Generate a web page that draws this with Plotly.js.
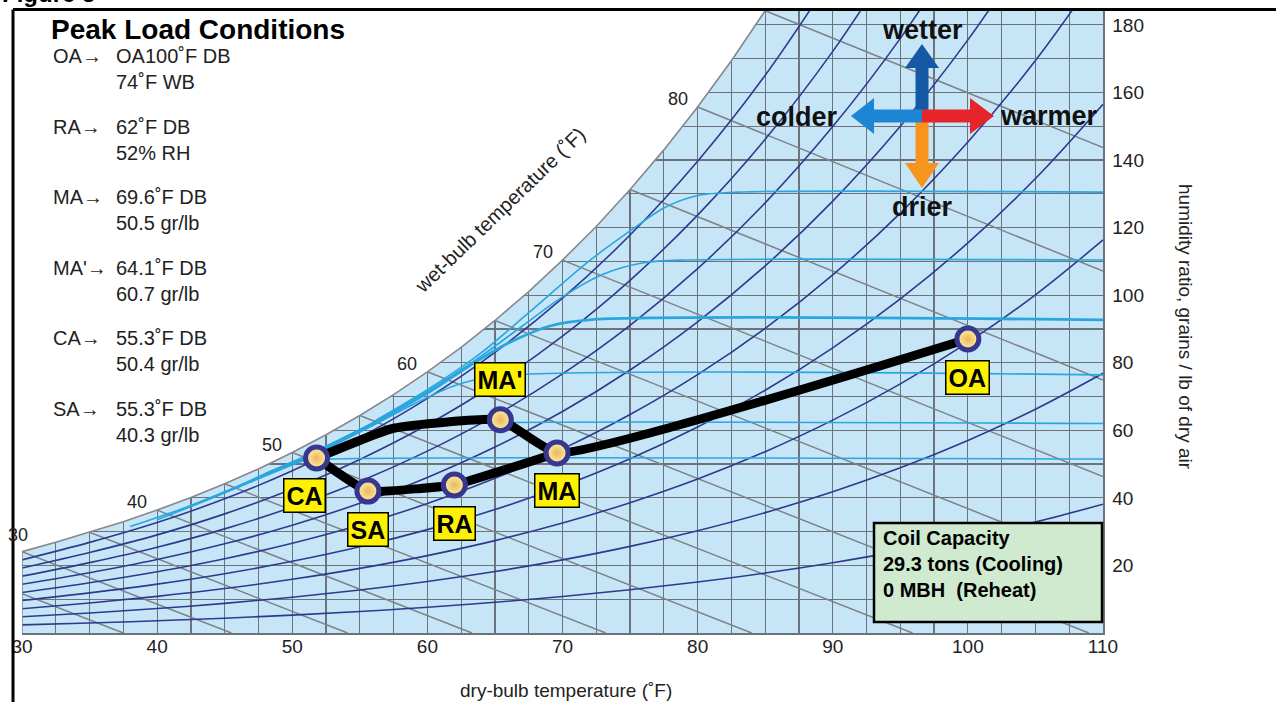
<!DOCTYPE html>
<html><head><meta charset="utf-8">
<script src="https://cdn.plot.ly/plotly-3.0.1.min.js"></script>
<style>html,body{margin:0;padding:0;background:#fff;}#chart{width:1276px;height:702px;}</style>
</head><body><div id="chart"></div>
<script>
// ---------------- data ----------------
// saturation curve: dry-bulb (F) vs grains/lb
const satDB = [30,32.5,35,37.5,40,42.5,45,47.5,50,52.5,55,57.5,60,62.5,65,67.5,70,72.5,75,77.5,80,82.5,85];
const satGr = [24.07,26.83,29.82,32.96,36.37,40.08,44.16,48.57,53.42,58.70,64.38,70.57,77.31,84.57,92.50,101.07,110.38,120.32,131.29,143.0,155.71,169.4,184.19];

// relative humidity curves (10%..90%), grains/lb at dry-bulb 30,35,...,110
const rhDB = [30,35,40,45,50,55,60,65,70,75,80,85,90,95,100,105,110];
const rh90 = [21.65,26.82,32.70,39.70,48.02,57.86,69.45,83.07,99.09,117.80,139.65,165.08,194.63];
const rh80 = [19.23,23.82,29.04,35.26,42.63,51.35,61.62,73.69,87.86,104.40,123.69,146.12,172.15,202.33];
const rh70 = [16.82,20.83,25.39,30.82,37.26,44.86,53.83,64.34,76.68,91.07,107.85,127.32,149.89,176.01,206.18];
const rh60 = [14.41,17.85,21.75,26.39,31.89,38.40,46.06,55.03,65.56,77.84,92.11,108.68,127.84,150.00,175.55,204.94];
const rh50 = [12.00,14.86,18.11,21.97,26.55,31.95,38.31,45.77,54.50,64.67,76.49,90.19,106.02,124.29,145.31,169.44,197.40];
const rh40 = [9.60,11.88,14.47,17.56,21.21,25.52,30.60,36.53,43.49,51.58,60.98,71.85,84.41,98.87,115.48,134.51,156.51];
const rh30 = [7.19,8.90,10.85,13.16,15.89,19.12,22.91,27.34,32.54,38.57,45.57,53.67,63.00,73.73,86.04,100.11,116.33];
const rh20 = [4.79,5.93,7.23,8.76,10.58,12.73,15.25,18.19,21.64,25.64,30.28,35.63,41.80,48.88,56.98,66.23,76.87];
const rh10 = [2.40,2.96,3.61,4.38,5.28,6.35,7.61,9.08,10.79,12.78,15.09,17.74,20.80,24.30,28.31,32.87,38.10];

// wet-bulb lines: start / end (dry-bulb, grains)
const wbTemp    = [25,30,35,40,45,50,55,60,65,70,75,80,85];
const wbStartDB = [30,30,35,40,45,50,55,60,65,70,75,80,85];
const wbStartGr = [11.6,24.07,29.82,36.37,44.16,53.42,64.38,77.31,92.50,110.38,131.29,155.71,184.19];
const wbEndDB   = [37.5,45.5,54.1,63.3,73.2,84.0,95.9,108.95,110,110,110,110,110];
const wbEndGr   = [0,0,0,0,0,0,0,0,20.9,46.3,74.9,107.1,143.7];
const wbLabels  = [30,40,50,60,70,80];

// cyan constant-humidity process curves
const cyan1DB = [38,42,46,48.5,50.5,53,110];
const cyan1Gr = [31.5,37,43.5,48.0,50.8,51.5,51.5];
const cyan2DB = [40,44,48,52,55,58,61,110];
const cyan2Gr = [33.5,39.8,46.5,53.0,57.8,61.0,62,62];
const cyan3DB = [44,48,52,56,59,62,65,110];
const cyan3Gr = [40,46.8,53.5,61.5,67.8,73.2,76,76.4];
const cyan4DB = [48,52,56,60,63,66,69,72,110];
const cyan4Gr = [47.0,54.0,62.0,71.0,78.8,85.8,90.8,92.7,92.7];
const cyan5DB = [52,56,60,64,67,70,73,76,79,110];
const cyan5Gr = [54.3,62.3,71.5,82.0,90.8,99.5,106.2,109.6,110.4,110.4];
const cyan6DB = [56,60,64,67.5,72,75,77.5,80,83,110];
const cyan6Gr = [62.5,72,83,94.8,110.2,119,125.8,129.5,130.5,130.5];

// air states plotted on the chart
const stateNames = ['OA','MA','RA','SA','CA',"MA'"];
const stateDB    = [100.0,69.6,62.0,55.6,51.8,65.4];
const stateGr    = [87.0,53.3,43.8,42.0,51.8,63.1];
// bends of the process path
const bendDB = [57.5,59.5];
const bendGr = [60.6,42.8];

// left text block
const condNames = ['OA','RA','MA',"MA'",'CA','SA'];
const condLine1 = ['OA100˚F DB','62˚F DB','69.6˚F DB','64.1˚F DB','55.3˚F DB','55.3˚F DB'];
const condLine2 = ['74˚F WB','52% RH','50.5 gr/lb','60.7 gr/lb','50.4 gr/lb','40.3 gr/lb'];
const coilLines = ['Coil Capacity','29.3 tons (Cooling)','0 MBH\u00a0 (Reheat)'];
const xTickVals = [30,40,50,60,70,80,90,100,110];
const yTickVals = [20,40,60,80,100,120,140,160,180];

// ---------------- geometry helpers ----------------
const W = 1276, H = 702;
const M = {l:22, r:173, t:10, b:69};
const PW = W - M.l - M.r, PH = H - M.t - M.b;
const fx = p => (p - M.l) / PW;
const fy = p => (H - M.b - p) / PH;

const FONT = 'Liberation Sans, Arial, Helvetica, sans-serif';
const GRID = '#6c737c';
const NAVY = '#2e3a8e';
const CYAN = '#2aa6df';
const WBC  = '#7e8186';

const st = n => stateNames.indexOf(n);
const traces = [];

// white mask above saturation
traces.push({x: satDB.concat([85, 25, 25]), y: satGr.concat([200, 200, satGr[0]]),
  mode:'lines', fill:'toself', fillcolor:'#ffffff', line:{color:'rgba(0,0,0,0)', width:0},
  hoverinfo:'skip', showlegend:false});

// wet-bulb lines
const wbx = [], wby = [];
wbTemp.forEach((t,i) => { wbx.push(wbStartDB[i], wbEndDB[i], null); wby.push(wbStartGr[i], wbEndGr[i], null); });
traces.push({x:wbx, y:wby, mode:'lines', line:{color:WBC, width:1.5}, hoverinfo:'skip', showlegend:false});

// RH curves
[rh10,rh20,rh30,rh40,rh50,rh60,rh70,rh80,rh90].forEach(arr => {
  traces.push({x: rhDB.slice(0, arr.length), y: arr, mode:'lines',
    line:{color:NAVY, width:1.6, shape:'spline', smoothing:1}, hoverinfo:'skip', showlegend:false});
});

// cyan curves
[[cyan1DB,cyan1Gr,1.6],[cyan2DB,cyan2Gr,1.6],[cyan3DB,cyan3Gr,1.6],[cyan4DB,cyan4Gr,2.8],[cyan5DB,cyan5Gr,1.6],[cyan6DB,cyan6Gr,1.6]].forEach(c => {
  traces.push({x:c[0], y:c[1], mode:'lines', line:{color:CYAN, width:c[2], shape:'spline', smoothing:0.8},
    hoverinfo:'skip', showlegend:false});
});

// saturation curve + left boundary
traces.push({x:[30].concat(satDB), y:[0].concat(satGr), mode:'lines', line:{color:'#85888c', width:1.6},
  hoverinfo:'skip', showlegend:false});

// process path
const upperX = [stateDB[st('CA')], bendDB[0], stateDB[st("MA'")], stateDB[st('MA')], stateDB[st('OA')]];
const upperY = [stateGr[st('CA')], bendGr[0], stateGr[st("MA'")], stateGr[st('MA')], stateGr[st('OA')]];
const lowerX = [stateDB[st('CA')], stateDB[st('SA')], bendDB[1], stateDB[st('RA')], stateDB[st('MA')]];
const lowerY = [stateGr[st('CA')], stateGr[st('SA')], bendGr[1], stateGr[st('RA')], stateGr[st('MA')]];
[[upperX,upperY],[lowerX,lowerY]].forEach(p => {
  traces.push({x:p[0], y:p[1], mode:'lines', line:{color:'#000', width:9, shape:'spline', smoothing:0.4},
    hoverinfo:'skip', showlegend:false});
});

// state markers
traces.push({x:stateDB, y:stateGr, mode:'markers',
  marker:{size:22, color:'#fff0a6', gradient:{type:'radial', color:'#e9b75e'}, line:{color:'#37378f', width:5}},
  hoverinfo:'skip', showlegend:false});

// ---------------- annotations ----------------
const ann = [];
const A = o => ann.push(Object.assign({showarrow:false, xanchor:'center', yanchor:'middle'}, o));
// state labels
stateNames.forEach((n,i) => {
  const above = n === "MA'";
  A({x:stateDB[i], y:stateGr[i], xref:'x', yref:'y', text:'<b>'+n+'</b>',
    yshift: above ? 40 : -38, xshift: n === 'CA' ? -12 : 0,
    font:{family:FONT, size:25, color:'#000'}, bgcolor:'#fff200', bordercolor:'#000', borderwidth:1.5, borderpad:2});
});
// wet-bulb labels
wbLabels.forEach(v => {
  const gy = satGr[satDB.indexOf(v)];
  if (v === 30) {
    A({x:v, y:gy, xref:'x', yref:'y', text:String(v), xshift:-4, yshift:17, font:{family:FONT, size:18, color:'#222'}});
  } else {
    A({x:v, y:gy, xref:'x', yref:'y', text:String(v), xanchor:'right', xshift:-8, yshift:8, font:{family:FONT, size:18, color:'#222'}});
  }
});
// titles
A({x:fx(566), y:fy(690), xref:'paper', yref:'paper', text:'dry-bulb temperature (˚F)', font:{family:FONT, size:19, color:'#222'}});
A({x:fx(1186), y:fy(327), xref:'paper', yref:'paper', text:'humidity ratio, grains / lb of dry air', textangle:90,
  font:{family:FONT, size:19, color:'#222'}});
A({x:fx(500), y:fy(210), xref:'paper', yref:'paper', text:'wet-bulb temperature (˚F)', textangle:-44,
  font:{family:FONT, size:20, color:'#222'}});
// header + conditions
A({x:fx(0), y:fy(9), xref:'paper', yref:'paper', xanchor:'left', yanchor:'bottom', text:'<b>Figure 5</b>',
  font:{family:FONT, size:24, color:'#000'}});
A({x:fx(49), y:fy(30), xref:'paper', yref:'paper', xanchor:'left', text:'<b>Peak Load Conditions</b>',
  font:{family:FONT, size:28, color:'#000'}});
condNames.forEach((n,i) => {
  const y0 = 56 + i*70.6;
  A({x:fx(51), y:fy(y0), xref:'paper', yref:'paper', xanchor:'left', text:n+'→', font:{family:FONT, size:20, color:'#222'}});
  A({x:fx(114), y:fy(y0+13), xref:'paper', yref:'paper', xanchor:'left', align:'left',
    text:condLine1[i]+'<br>'+condLine2[i], font:{family:FONT, size:20, color:'#222'}});
});
// coil capacity text
A({x:fx(881), y:fy(564), xref:'paper', yref:'paper', xanchor:'left', align:'left',
  text:'<b>'+coilLines.join('<br>')+'</b>', font:{family:FONT, size:20, color:'#000'}});
// direction words
[['wetter',922,30],['colder',797,117],['warmer',1049,116],['drier',922,207]].forEach(w => {
  A({x:fx(w[1]), y:fy(w[2]), xref:'paper', yref:'paper', text:'<b>'+w[0]+'</b>', font:{family:FONT, size:27, color:'#111'}});
});

// ---------------- shapes ----------------
const shapes = [];
const rectPx = (x0,y0,x1,y1,color) => shapes.push({type:'rect', xref:'paper', yref:'paper',
  x0:fx(x0), x1:fx(x1), y0:fy(y1), y1:fy(y0), fillcolor:color, line:{width:0}});
const triPx = (pts,color) => shapes.push({type:'path', xref:'paper', yref:'paper',
  path:'M'+pts.map(p => fx(p[0])+','+fy(p[1])).join(' L')+' Z', fillcolor:color, line:{width:0}});
const cx = 922, cy = 116, hw = 6.5;
rectPx(cx-hw, 66, cx+hw, cy, '#1558a6');  triPx([[cx-17,68],[cx+17,68],[cx,44]], '#1558a6');
rectPx(cx-hw, cy, cx+hw, 165, '#f6941f'); triPx([[cx-17,163],[cx+17,163],[cx,188]], '#f6941f');
rectPx(872, cy-hw, cx, cy+hw, '#1d86d4'); triPx([[874,cy-18],[874,cy+18],[851,cy]], '#1d86d4');
rectPx(cx, cy-hw, 972, cy+hw, '#e6252b'); triPx([[970,cy-18],[970,cy+18],[994,cy]], '#e6252b');
// coil capacity box
shapes.push({type:'rect', xref:'paper', yref:'paper', x0:fx(874), x1:fx(1102), y0:fy(622), y1:fy(523),
  fillcolor:'#cfeacf', line:{color:'#000', width:2.5}, layer:'above'});
// frame
shapes.push({type:'line', xref:'paper', yref:'paper', x0:fx(13), x1:fx(1280), y0:fy(9.5), y1:fy(9.5), line:{color:'#000', width:3}});
shapes.push({type:'line', xref:'paper', yref:'paper', x0:fx(13), x1:fx(13), y0:fy(9.5), y1:fy(710), line:{color:'#000', width:3}});

const layout = {
  width:W, height:H, margin:M, paper_bgcolor:'#ffffff', plot_bgcolor:'#c6e6f8', showlegend:false,
  font:{family:FONT, color:'#222'},
  xaxis:{range:[30,110], tickmode:'array', tickvals:xTickVals, ticks:'', showgrid:true, gridcolor:GRID, gridwidth:1.2,
    minor:{dtick:2.5, tick0:30, showgrid:true, gridcolor:GRID, gridwidth:1.2, ticks:''}, ticklabelstandoff:-4,
    showline:true, linecolor:GRID, linewidth:1.5, zeroline:false, tickfont:{family:FONT, size:19, color:'#222'}, fixedrange:true},
  yaxis:{range:[0,184.4], side:'right', tickmode:'array', tickvals:yTickVals, ticks:'', showgrid:true, gridcolor:GRID, gridwidth:1.2,
    minor:{dtick:10, tick0:0, showgrid:true, gridcolor:GRID, gridwidth:1.2, ticks:''}, ticklabelstandoff:4,
    showline:true, linecolor:GRID, linewidth:1.5, zeroline:false, tickfont:{family:FONT, size:19, color:'#222'}, fixedrange:true},
  annotations:ann, shapes:shapes
};
Plotly.newPlot('chart', traces, layout, {staticPlot:true, displayModeBar:false});
</script></body></html>
